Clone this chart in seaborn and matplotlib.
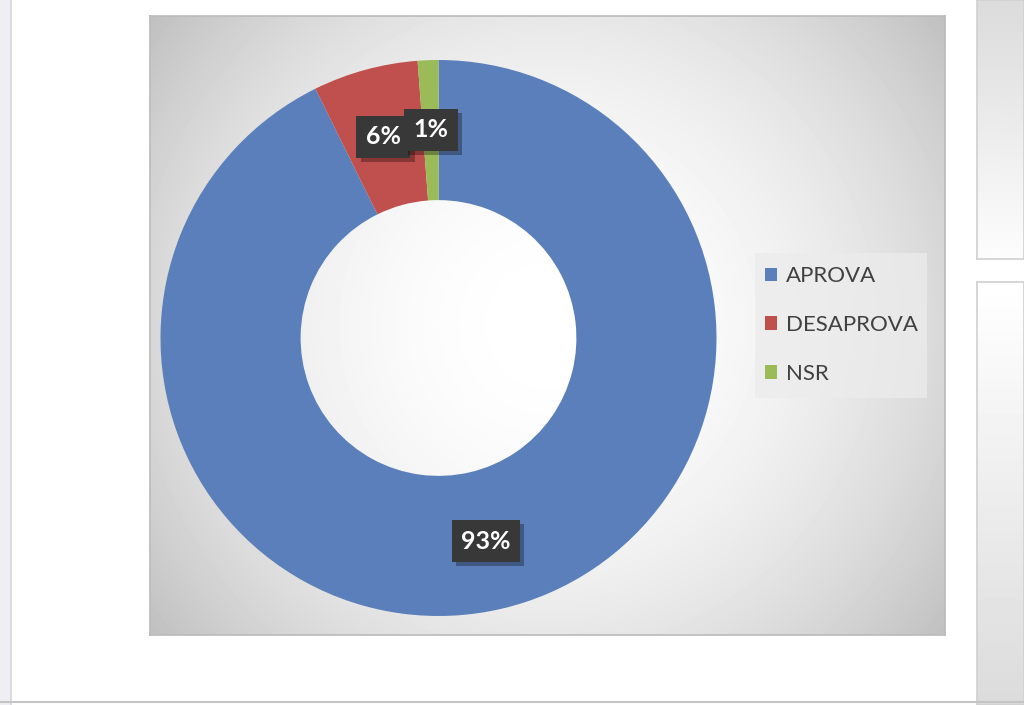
import numpy as np
import matplotlib.pyplot as plt
import matplotlib.patheffects as pe
from matplotlib.patches import Rectangle
from matplotlib.lines import Line2D
import seaborn as sns

# data
categories = ["APROVA", "DESAPROVA", "NSR"]
values = [92.7, 6.1, 1.2]
colors = ["#5a7fba", "#c0504d", "#9bbb59"]

sns.set_theme(style="white")
plt.rcParams['font.family'] = ['Lato', 'DejaVu Sans']

W, H = 1024, 705
fig = plt.figure(figsize=(W / 100, H / 100), dpi=100)
fig.patch.set_facecolor('white')


def box(x0, y0, x1, y1):
    # pixel box (top-left origin) -> figure fraction rect
    return [x0 / W, 1 - y1 / H, (x1 - x0) / W, (y1 - y0) / H]


# page chrome around the chart
side = fig.add_axes(box(0, 0, 11, 705))
side.set_facecolor('#eeeef3')
side.set_xticks([]); side.set_yticks([])
for s in side.spines.values():
    s.set_visible(False)
side.spines['right'].set_visible(True)
side.spines['right'].set_color('#d8d8e0')

for (y0, y1, top, bot) in [(0, 259, 0.86, 0.99), (282, 705, 1.0, 0.86)]:
    card = fig.add_axes(box(977, y0, 1024, y1))
    grad = np.linspace(top, bot, 100).reshape(-1, 1)
    card.imshow(grad, cmap='gray', vmin=0, vmax=1, aspect='auto')
    card.set_xticks([]); card.set_yticks([])
    for s in card.spines.values():
        s.set_color('#d0d0d0')
        s.set_linewidth(1.2)

fig.add_artist(Line2D([0, 1], [1 - 702 / H] * 2, color='#c4c4c4', lw=1.5))

# chart area with radial gradient
bg = fig.add_axes(box(150, 16, 945, 635))
yy, xx = np.mgrid[0:619, 0:795]
d = np.hypot(xx - 398, yy - 309) / 504
shade = np.clip(1 - 0.25 * d ** 2, 0, 1)
bg.imshow(shade, cmap='gray', vmin=0, vmax=1, aspect='auto')
bg.set_xticks([]); bg.set_yticks([])
for s in bg.spines.values():
    s.set_color('#bcbcbc')

# donut
ax = fig.add_axes(box(438.5 - 278, 338 - 278, 438.5 + 278, 338 + 278))
wedges, texts, autotexts = ax.pie(
    values, colors=colors, startangle=90, counterclock=False, radius=1,
    wedgeprops=dict(width=0.504, edgecolor='none'),
    autopct=lambda p: f"{p:.0f}%", pctdistance=0.75,
    textprops=dict(color='white', fontsize=18, fontweight='bold'))
ax.set_xlim(-1, 1)
ax.set_ylim(-1, 1)

for t in autotexts:
    t.set_bbox(dict(boxstyle='square,pad=0.38', facecolor='#383838',
                    edgecolor='none'))
    t.get_bbox_patch().set_path_effects([
        pe.SimplePatchShadow(offset=(3, -3), shadow_rgbFace='black', alpha=0.3),
        pe.Normal()])

# legend background box, then the legend itself without frame
fig.add_artist(Rectangle((755 / W, 1 - 398 / H), 172 / W, 145 / H,
                         transform=fig.transFigure, facecolor='#ececec',
                         edgecolor='none', alpha=0.75))
handles = [Rectangle((0, 0), 1, 1, facecolor=c, edgecolor='none') for c in colors]
leg = fig.legend(handles, categories, loc='center left',
                 bbox_to_anchor=(765 / W, 1 - 325 / H), frameon=False,
                 fontsize=16, handlelength=0.55, handleheight=0.55,
                 handletextpad=0.4, labelspacing=1.3,
                 borderpad=0, borderaxespad=0)
for txt in leg.get_texts():
    txt.set_color('#404040')

fig.savefig('out.png', dpi=100, facecolor='white')
